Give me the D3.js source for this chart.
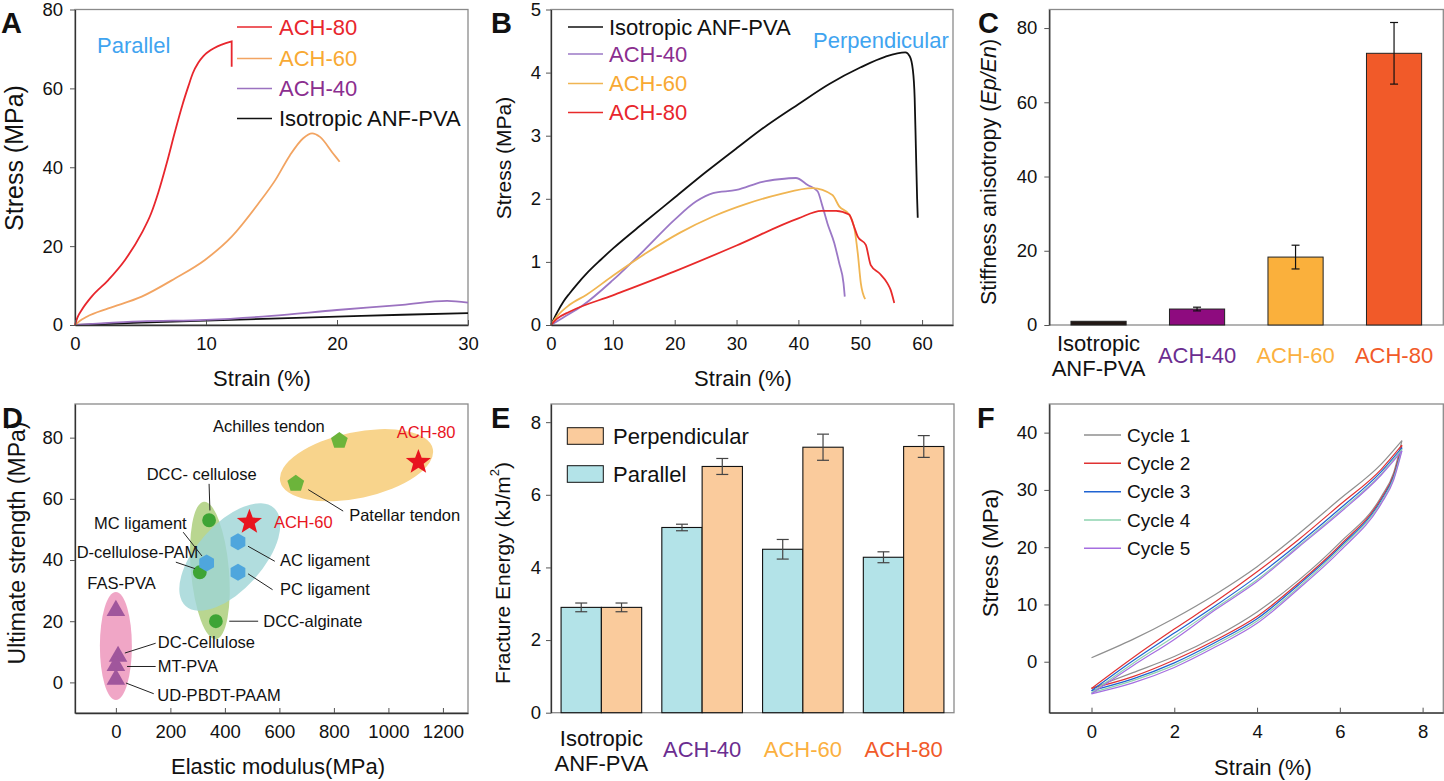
<!DOCTYPE html>
<html>
<head>
<meta charset="utf-8">
<script src="https://cdn.jsdelivr.net/npm/d3@7"></script>
<style>
  body { margin: 0; background: #fff; }
  svg { font-family: "Liberation Sans", Arial, sans-serif; }
</style>
</head>
<body>
<svg id="fig" width="1444" height="781"></svg>
<script>
// ---------- data ----------
// A: tensile curves, parallel direction [strain %, stress MPa]
const parAch80 = [[0,0],[0.2,2.0],[0.51,3.8],[1.27,7.2],[2.54,11.4],[3.82,16.5],[5.09,23.3],[5.8,28.2],[6.36,33.6],[7.0,41.0],[7.63,49.0],[8.2,55.8],[8.65,60.5],[9.0,63.9],[9.41,66.5],[9.8,68.2],[10.18,69.3],[11.2,71.1],[11.96,71.9]];
const parAch80Break = [11.96, 65.5];
const parAch60 = [[0,0],[0.38,1.1],[0.9,2.1],[2.54,4.2],[5.09,7.2],[7.63,11.8],[9.92,16.5],[11.96,22.4],[14.0,30.8],[15.3,36.8],[16.4,43.0],[17.4,47.3],[18.1,48.6],[18.7,47.7],[19.7,43.5],[20.2,41.4]];
const parAch40 = [[0,0],[2,0.4],[5,0.9],[10,1.3],[15,2.3],[20,3.8],[25,5.1],[28.4,6.1],[30,5.7]];
const parIso = [[0,0],[2,0.25],[5,0.6],[10,1.1],[15,1.6],[20,2.1],[25,2.6],[30,3.0]];
const namesA = ["ACH-80", "ACH-60", "ACH-40", "Isotropic ANF-PVA"];

// B: tensile curves, perpendicular direction
const perIso = [[0,0],[1,0.2],[2,0.37],[3,0.5],[4,0.62],[6,0.84],[8,1.03],[10,1.21],[15,1.62],[20,2.02],[25,2.42],[30,2.8],[35,3.17],[40,3.5],[45,3.82],[50,4.08],[54,4.25],[57.3,4.32],[58,4.26],[58.5,4.05],[58.8,3.6],[59.0,2.8],[59.2,2.0],[59.3,1.7]];
const perAch40 = [[0,0],[2,0.12],[5,0.3],[10,0.71],[15,1.18],[20,1.67],[23.5,1.96],[26.2,2.09],[30,2.14],[34.2,2.27],[36.9,2.31],[39.6,2.33],[41.5,2.22],[43.1,2.12],[43.9,1.88],[44.7,1.61],[45.8,1.3],[46.6,0.98],[47.3,0.66],[47.5,0.45]];
const perAch60 = [[0,0],[1,0.14],[3,0.32],[5.75,0.48],[10,0.78],[15.4,1.14],[20.8,1.46],[26.2,1.72],[31.6,1.92],[36.9,2.07],[42.3,2.17],[45.5,2.06],[46.6,1.88],[48.2,1.75],[49,1.56],[49.6,1.14],[50.1,0.66],[50.8,0.41]];
const perAch80 = [[0,0],[1,0.1],[3,0.21],[10,0.47],[20,0.85],[30,1.26],[40,1.69],[43.7,1.81],[46.1,1.81],[48.2,1.75],[49,1.56],[49.6,1.4],[50.9,1.27],[51.7,0.95],[53.1,0.82],[54.4,0.66],[54.9,0.56],[55.5,0.35]];
const namesB = ["Isotropic ANF-PVA", "ACH-40", "ACH-60", "ACH-80"];

// C: stiffness anisotropy
const catsC = ["Isotropic ANF-PVA", "ACH-40", "ACH-60", "ACH-80"];
const anisotropy = [1.0, 4.3, 18.3, 73.2];
const anisotropyErr = [0, 0.5, 3.2, 8.3];

// D: Ashby-style comparison [label, modulus MPa, strength MPa]
const dCircles = [["DCC- cellulose", 342, 53], ["D-cellulose-PAM", 308, 36], ["DCC-alginate", 367, 20]];
const dHexagons = [["MC ligament", 333, 39], ["AC ligament", 448, 46], ["PC ligament", 448, 36]];
const dPentagons = [["Achilles tendon", 820, 79], ["Patellar tendon", 660, 65]];
const dTriangles = [["FAS-PVA", 0, 23.5], ["DC-Cellulose", 8, 8.5], ["MT-PVA", 0, 5.5], ["UD-PBDT-PAAM", 0, 1]];
const dStars = [["ACH-60", 490, 52.4], ["ACH-80", 1110, 72]];
// group centres [modulus, strength]
const dGroups = [["tendon", 883, 71], ["hydrogel", 0, 11.9], ["cellulose", 345, 36.6], ["ligament", 418, 41]];

// E: fracture energy
const catsE = ["Isotropic ANF-PVA", "ACH-40", "ACH-60", "ACH-80"];
const fracPar = [2.9, 5.1, 4.5, 4.28];
const fracParErr = [0.12, 0.09, 0.27, 0.15];
const fracPerp = [2.9, 6.78, 7.31, 7.33];
const fracPerpErr = [0.12, 0.22, 0.36, 0.3];

// F: cyclic loading, [strain %, stress MPa]
const cycLoad = [
  [[0,0.7],[1,3.9],[2,7.6],[3,11.8],[4,16.6],[5,22.3],[6,28.4],[7,34.5],[7.5,38.6]],
  [[0,-4.65],[1,0.7],[2,5.7],[3,10.5],[4,15.7],[5,21.3],[6,27.4],[7,33.6],[7.5,37.8]],
  [[0,-5.05],[1,0.17],[2,5.0],[3,9.8],[4,14.9],[5,20.6],[6,26.7],[7,33.2],[7.5,37.4]],
  [[0,-5.4],[1,-0.3],[2,4.4],[3,9.4],[4,14.3],[5,20.2],[6,26.3],[7,32.8],[7.5,37.1]],
  [[0,-5.6],[1,-0.7],[2,3.9],[3,9.1],[4,14.0],[5,20.0],[6,26.0],[7,32.6],[7.5,36.8]]
];
const cycUnload = [
  [[0,-4.65],[1,-1.9],[2,0.9],[3,4.4],[4,8.7],[5,14.2],[6,20.8],[7,28.8],[7.3,33.0],[7.5,38.6]],
  [[0,-4.65],[1,-2.6],[2,0.3],[3,3.8],[4,7.9],[5,13.7],[6,20.3],[7,28.5],[7.3,32.6],[7.5,37.8]],
  [[0,-5.05],[1,-3.0],[2,-0.2],[3,3.4],[4,7.5],[5,13.4],[6,20.0],[7,28.2],[7.3,32.3],[7.5,37.4]],
  [[0,-5.4],[1,-3.3],[2,-0.6],[3,3.0],[4,7.1],[5,13.0],[6,19.7],[7,27.9],[7.3,32.0],[7.5,37.1]],
  [[0,-5.6],[1,-3.7],[2,-1.0],[3,2.6],[4,6.7],[5,12.7],[6,19.3],[7,27.6],[7.3,31.7],[7.5,36.8]]
];
const cycNames = ["Cycle 1", "Cycle 2", "Cycle 3", "Cycle 4", "Cycle 5"];

// ---------- helpers ----------
const svg = d3.select("#fig");
const TICK = 18.5, TITLE = 22;

function box(x0, x1, y0, y1) {
  svg.append("rect").attr("x", x0).attr("y", y0)
    .attr("width", x1 - x0).attr("height", y1 - y0)
    .attr("fill", "none").attr("stroke", "#8a8a8a").attr("stroke-width", 1.3);
}
function styleAxis(g) {
  g.select(".domain").attr("stroke", "#333").attr("stroke-width", 1.3);
  g.selectAll(".tick line").attr("stroke", "#555");
  g.selectAll(".tick text").attr("font-size", TICK).attr("fill", "#111")
    .attr("font-family", '"Liberation Sans", Arial, sans-serif');
}
function yAxis(scale, x0, ticks, pad = 7) {
  const g = svg.append("g").attr("transform", `translate(${x0},0)`)
    .call(d3.axisLeft(scale).tickValues(ticks).tickFormat(d => d)
      .tickSizeInner(5).tickSizeOuter(0).tickPadding(pad));
  styleAxis(g);
  return g;
}
function xAxis(scale, y0, ticks) {
  const g = svg.append("g").attr("transform", `translate(0,${y0})`)
    .call(d3.axisBottom(scale).tickValues(ticks).tickFormat(d => d)
      .tickSizeInner(-5).tickSizeOuter(0).tickPadding(12));
  styleAxis(g);
  return g;
}
function label(txt, x, y, size, color = "#111", rot = 0, anchor = "middle") {
  return svg.append("text").attr("x", x).attr("y", y)
    .attr("transform", rot ? `rotate(${rot},${x},${y})` : null)
    .attr("text-anchor", anchor).attr("dominant-baseline", "central")
    .attr("font-size", size).attr("fill", color).text(txt);
}
function letter(t, x, y) {
  svg.append("text").attr("x", x).attr("y", y).attr("font-size", 29)
    .attr("font-weight", "bold").attr("fill", "#111").text(t);
}
function lineLegend(names, colors, textColors, x0, x1, tx, ys, size, width) {
  names.forEach((n, i) => {
    svg.append("line").attr("x1", x0).attr("x2", x1).attr("y1", ys[i]).attr("y2", ys[i])
      .attr("stroke", colors[i]).attr("stroke-width", width);
    label(n, tx, ys[i], size, textColors[i], 0, "start");
  });
}

const txtPurple = "#8b2e8f", txtOrange = "#f8a933", txtRed = "#e8262d", blueNote = "#3fa4f0";

// ---------- A ----------
{
  const x = d3.scaleLinear().domain([0, 30]).range([75, 468]);
  const y = d3.scaleLinear().domain([0, 80]).range([325, 9.5]);
  box(75, 468, 9.5, 325);
  const line = d3.line().x(d => x(d[0])).y(d => y(d[1])).curve(d3.curveMonotoneX);
  const series = [parIso, parAch40, parAch60, parAch80];
  const cols = ["#111", "#9b72c0", "#f2a462", "#e8262d"];
  series.forEach((s, i) => {
    let d = line(s);
    if (s === parAch80) d += `L${x(parAch80Break[0])},${y(parAch80Break[1])}`;
    svg.append("path").attr("d", d).attr("fill", "none")
      .attr("stroke", cols[i]).attr("stroke-width", 1.8);
  });
  yAxis(y, 75, [0, 20, 40, 60, 80]);
  xAxis(x, 325, [0, 10, 20, 30]);
  lineLegend(namesA, ["#e8262d", "#f2a462", "#9b72c0", "#111"], [txtRed, txtOrange, txtPurple, "#111"],
    237, 272, 279, [27, 58.5, 88.5, 118.5], TITLE, 1.6);
  label("Parallel", 97, 45, TITLE, blueNote, 0, "start");
  label("Strain (%)", 262, 378, TITLE);
  label("Stress (MPa)", 14, 158, 25, "#111", -90);
  letter("A", 1, 33);
}

// ---------- B ----------
{
  const x = d3.scaleLinear().domain([0, 65]).range([551, 953]);
  const y = d3.scaleLinear().domain([0, 5]).range([325, 9.5]);
  box(551, 953, 9.5, 325);
  const line = d3.line().x(d => x(d[0])).y(d => y(d[1])).curve(d3.curveMonotoneX);
  const series = [perIso, perAch40, perAch60, perAch80];
  const cols = ["#111", "#9b78c6", "#f0b552", "#e82a2a"];
  series.forEach((s, i) => svg.append("path").attr("d", line(s)).attr("fill", "none")
    .attr("stroke", cols[i]).attr("stroke-width", 1.8));
  yAxis(y, 551, [0, 1, 2, 3, 4, 5], 5);
  xAxis(x, 325, [0, 10, 20, 30, 40, 50, 60]);
  lineLegend(namesB, ["#111", "#9b78c6", "#f0b552", "#e82a2a"], ["#111", txtPurple, txtOrange, txtRed],
    568, 603, 609, [27, 54, 83.5, 112.5], TITLE, 1.6);
  label("Perpendicular", 813, 40, TITLE, blueNote, 0, "start");
  label("Strain (%)", 743, 378, TITLE);
  label("Stress (MPa)", 503, 158, 21, "#111", -90);
  letter("B", 491, 33);
}

// ---------- C ----------
{
  const x = d3.scaleBand().domain(catsC).range([1049.3, 1443.3]).paddingInner(0.44).paddingOuter(0.22);
  const y = d3.scaleLinear().domain([0, 85]).range([325, 9.5]);
  box(1049.3, 1443.3, 9.5, 325);
  const fills = ["#231815", "#8e0b7f", "#fab03c", "#f15a29"];
  const labCols = ["#111", "#6b2d90", "#fbb040", "#f15a29"];
  svg.append("g").selectAll("rect").data(catsC).join("rect")
    .attr("x", d => x(d)).attr("width", x.bandwidth())
    .attr("y", (d, i) => y(anisotropy[i])).attr("height", (d, i) => y(0) - y(anisotropy[i]))
    .attr("fill", (d, i) => fills[i]).attr("stroke", "#222").attr("stroke-width", 1);
  catsC.forEach((c, i) => {
    const e = anisotropyErr[i];
    if (!e) return;
    const cx = x(c) + x.bandwidth() / 2;
    const g = svg.append("g").attr("stroke", "#111").attr("stroke-width", 1.2);
    g.append("line").attr("x1", cx).attr("x2", cx).attr("y1", y(anisotropy[i] - e)).attr("y2", y(anisotropy[i] + e));
    [anisotropy[i] - e, anisotropy[i] + e].forEach(v =>
      g.append("line").attr("x1", cx - 4).attr("x2", cx + 4).attr("y1", y(v)).attr("y2", y(v)));
  });
  yAxis(y, 1049.3, [0, 20, 40, 60, 80]);
  catsC.forEach((c, i) => {
    const cx = x(c) + x.bandwidth() / 2;
    if (i === 0) {
      label("Isotropic", cx, 343, TITLE, labCols[i]);
      label("ANF-PVA", cx, 368, TITLE, labCols[i]);
    } else label(c, cx, 355, TITLE, labCols[i]);
  });
  const t = svg.append("text").attr("transform", "translate(989,172) rotate(-90)")
    .attr("text-anchor", "middle").attr("dominant-baseline", "central")
    .attr("font-size", 21.5).attr("fill", "#111");
  t.append("tspan").text("Stiffness anisotropy (");
  t.append("tspan").attr("font-style", "italic").text("Ep/En");
  t.append("tspan").text(")");
  letter("C", 978, 33);
}

// ---------- D ----------
{
  const x = d3.scaleLinear().domain([-150, 1292]).range([75, 468]);
  const y = d3.scaleLinear().domain([-10, 91]).range([713, 404]);
  box(75, 468, 404, 713);
  const ell = [
    { g: dGroups[0], rx: 78, ry: 33, rot: -12, fill: "#f8d48c", op: 1 },
    { g: dGroups[1], rx: 16, ry: 54, rot: 0, fill: "#f0a6c6", op: 1 },
    { g: dGroups[2], rx: 19, ry: 69, rot: -5, fill: "#b9d690", op: 1 },
    { g: dGroups[3], rx: 66, ry: 33, rot: -48, fill: "#9dd5d6", op: 0.8 }
  ];
  ell.forEach(e => {
    const cx = x(e.g[1]), cy = y(e.g[2]);
    svg.append("ellipse").attr("cx", cx).attr("cy", cy).attr("rx", e.rx).attr("ry", e.ry)
      .attr("transform", `rotate(${e.rot},${cx},${cy})`)
      .attr("fill", e.fill).attr("fill-opacity", e.op);
  });
  const poly = (n, rIn) => ({
    draw(ctx, size) {
      const r = Math.sqrt(size) / 2;
      const k = rIn ? n * 2 : n;
      for (let i = 0; i < k; i++) {
        const a = -Math.PI / 2 + i * 2 * Math.PI / k;
        const rr = rIn && i % 2 ? r * rIn : r;
        const px = rr * Math.cos(a), py = rr * Math.sin(a);
        i ? ctx.lineTo(px, py) : ctx.moveTo(px, py);
      }
      ctx.closePath();
    }
  });
  const marks = [
    [dCircles, d3.symbolCircle, 150, "#3ea435"],
    [dHexagons, poly(6), 290, "#4fa6dd"],
    [dPentagons, poly(5), 310, "#6cb43b"],
    [dTriangles, d3.symbolTriangle, 150, "#a0569c"],
    [dStars, poly(5, 0.42), 700, "#e8141e"]
  ];
  marks.forEach(([data, type, size, col]) => {
    svg.append("g").selectAll("path").data(data).join("path")
      .attr("transform", d => `translate(${x(d[1])},${y(d[2])})`)
      .attr("d", d3.symbol().type(type).size(size)).attr("fill", col);
  });
  // annotations: [text, x, y, colour]
  const notes = [
    ["Achilles tendon", 356, 83.7, "#111"], ["ACH-80", 1031, 81.8, "#e8141e"],
    ["DCC- cellulose", 113, 68, "#111"], ["MC ligament", -80, 52.1, "#111"],
    ["D-cellulose-PAM", -144, 42.6, "#111"], ["ACH-60", 580, 52.4, "#e8141e"],
    ["AC ligament", 602, 40.1, "#111"], ["PC ligament", 602, 30.6, "#111"],
    ["Patellar tendon", 856, 54.7, "#111"], ["FAS-PVA", -105, 32.6, "#111"],
    ["DCC-alginate", 541, 20, "#111"], ["DC-Cellulose", 154, 13.2, "#111"],
    ["MT-PVA", 154, 5.2, "#111"], ["UD-PBDT-PAAM", 152, -4.2, "#111"]
  ];
  notes.forEach(n => label(n[0], x(n[1]), y(n[2]), 16.5, n[3], 0, "start"));
  const leaders = [
    [342, 64.9, 345, 56.2], [247, 49.1, 316, 41.3], [220, 39.3, 290, 37.2],
    [485, 44.5, 583, 39.6], [485, 35.5, 575, 30.3], [706, 63, 834, 56],
    [416, 20, 522, 20], [33, 9.6, 146, 12.8], [41, 5.2, 146, 5.2], [37, -0.2, 139, -3.7]
  ];
  leaders.forEach(l => svg.append("line").attr("x1", x(l[0])).attr("y1", y(l[1]))
    .attr("x2", x(l[2])).attr("y2", y(l[3])).attr("stroke", "#222").attr("stroke-width", 1));
  yAxis(y, 75, [0, 20, 40, 60, 80]);
  xAxis(x, 713, [0, 200, 400, 600, 800, 1000, 1200]);
  label("Elastic modulus(MPa)", 278, 766, TITLE);
  label("Ultimate strength (MPa)", 17, 543, 23, "#111", -90);
  letter("D", 2, 428);
}

// ---------- E ----------
{
  const x0 = d3.scaleBand().domain(catsE).range([551, 954]).paddingInner(0.2).paddingOuter(0.1);
  const x1 = d3.scaleBand().domain(["Parallel", "Perpendicular"]).range([0, x0.bandwidth()]);
  const y = d3.scaleLinear().domain([0, 8.5]).range([712.7, 404]);
  box(551, 954, 404, 712.7);
  const sets = [["Parallel", fracPar, fracParErr, "#b3e3e8"], ["Perpendicular", fracPerp, fracPerpErr, "#facb9c"]];
  sets.forEach(([key, vals, errs, col]) => {
    catsE.forEach((c, i) => {
      const bx = x0(c) + x1(key);
      svg.append("rect").attr("x", bx).attr("width", x1.bandwidth())
        .attr("y", y(vals[i])).attr("height", y(0) - y(vals[i]))
        .attr("fill", col).attr("stroke", "#111").attr("stroke-width", 1.1);
      const cx = bx + x1.bandwidth() / 2;
      const g = svg.append("g").attr("stroke", "#444").attr("stroke-width", 1.2);
      g.append("line").attr("x1", cx).attr("x2", cx).attr("y1", y(vals[i] - errs[i])).attr("y2", y(vals[i] + errs[i]));
      [vals[i] - errs[i], vals[i] + errs[i]].forEach(v =>
        g.append("line").attr("x1", cx - 6).attr("x2", cx + 6).attr("y1", y(v)).attr("y2", y(v)));
    });
  });
  yAxis(y, 551, [0, 2, 4, 6, 8], 5);
  const labCols = ["#111", "#6b2d90", "#fbb040", "#f15a29"];
  catsE.forEach((c, i) => {
    const cx = x0(c) + x0.bandwidth() / 2;
    if (i === 0) {
      label("Isotropic", cx, 738, TITLE, labCols[i]);
      label("ANF-PVA", cx, 763, TITLE, labCols[i]);
    } else label(c, cx, 749, TITLE, labCols[i]);
  });
  [["Perpendicular", "#facb9c", 436], ["Parallel", "#b3e3e8", 474]].forEach(([n, col, cy]) => {
    svg.append("rect").attr("x", 567.3).attr("y", cy - 8.3).attr("width", 36).attr("height", 16.6)
      .attr("fill", col).attr("stroke", "#111").attr("stroke-width", 1);
    label(n, 613, cy, TITLE, "#111", 0, "start");
  });
  const t = svg.append("text").attr("transform", "translate(502,573) rotate(-90)")
    .attr("text-anchor", "middle").attr("dominant-baseline", "central")
    .attr("font-size", 21).attr("fill", "#111");
  t.append("tspan").text("Fracture Energy (kJ/m");
  t.append("tspan").attr("font-size", 13).attr("dy", -8).text("2");
  t.append("tspan").attr("dy", 8).text(")");
  letter("E", 491, 428);
}

// ---------- F ----------
{
  const x = d3.scaleLinear().domain([-1.02, 8.5]).range([1049.3, 1443.3]);
  const y = d3.scaleLinear().domain([-8.9, 45]).range([712.7, 404]);
  box(1049.3, 1443.3, 404, 712.7);
  const cols = ["#8f8f8f", "#e03232", "#1f63d2", "#8ed3af", "#a56ee0"];
  const line = d3.line().x(d => x(d[0])).y(d => y(d[1])).curve(d3.curveMonotoneX);
  cycLoad.forEach((s, i) => {
    [s, cycUnload[i]].forEach(branch =>
      svg.append("path").attr("d", line(branch)).attr("fill", "none")
        .attr("stroke", cols[i]).attr("stroke-width", 1.2));
  });
  yAxis(y, 1049.3, [0, 10, 20, 30, 40]);
  xAxis(x, 712.7, [0, 2, 4, 6, 8]);
  lineLegend(cycNames, cols, cycNames.map(() => "#111"), 1084, 1121, 1127,
    [435, 463.3, 491.7, 520, 548.3], 19, 1.6);
  label("Strain (%)", 1263, 767, TITLE);
  label("Stress (MPa)", 990, 553, TITLE, "#111", -90);
  letter("F", 977, 428);
}
</script>
</body>
</html>
